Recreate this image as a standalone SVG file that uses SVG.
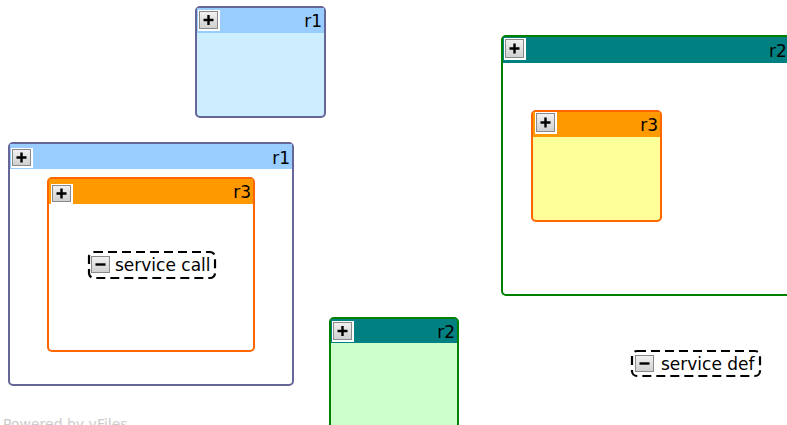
<svg xmlns="http://www.w3.org/2000/svg" width="787" height="425" viewBox="0 0 787 425">
<defs>
<linearGradient id="btn" x1="0" y1="0" x2="0" y2="1">
<stop offset="0" stop-color="#f2f2f2"/>
<stop offset="1" stop-color="#cfcfcf"/>
</linearGradient>
<style>
.lbl{font-family:"DejaVu Sans",sans-serif;font-size:17px;fill:#000;}
.btn{fill:url(#btn);stroke:#8a8a8a;stroke-width:1;}
.btno{fill:#fff;}
.sign{stroke:#000;stroke-width:2.4;fill:none;}
.c1{stroke:#666699;stroke-width:2;}
.c2{stroke:#008000;stroke-width:2;}
.c3{stroke:#ff6600;stroke-width:2;}
.dash{fill:#fff;stroke:#000;stroke-width:2.2;stroke-dasharray:9,5;}
</style>
</defs>
<g id="r1-top">
<rect x="196" y="7" width="129" height="110" rx="4" fill="#cceeff" class="c1"/>
<rect x="197" y="8" width="127" height="25" fill="#99ccff"/>
<rect x="198" y="10" width="22" height="21" class="btno"/>
<rect x="199.5" y="11.5" width="18" height="17" class="btn"/>
<path d="M203.5 20h10M208.5 15v10" class="sign"/>
<text x="322" y="27" text-anchor="end" class="lbl">r1</text>
</g>
<g id="r1-big">
<rect x="9" y="143" width="284" height="242" rx="4" fill="#fff" class="c1"/>
<rect x="10" y="144" width="282" height="25" fill="#99ccff"/>
<rect x="11" y="148" width="22" height="20" class="btno"/>
<rect x="12.5" y="149.5" width="18" height="16" class="btn"/>
<path d="M16.5 157.5h10M21.5 152.5v10" class="sign"/>
<text x="290" y="164" text-anchor="end" class="lbl">r1</text>
</g>
<g id="r3-inner">
<rect x="48" y="178" width="206" height="173" rx="4" fill="#fff" class="c3"/>
<rect x="49" y="179" width="204" height="25" fill="#ff9900"/>
<rect x="51" y="184" width="22" height="20" class="btno"/>
<rect x="52.5" y="185.5" width="18" height="16" class="btn"/>
<path d="M56.5 193.5h10M61.5 188.5v10" class="sign"/>
<text x="251" y="198" text-anchor="end" class="lbl">r3</text>
</g>
<g id="service-call">
<rect x="89" y="252" width="126" height="26" rx="5" class="dash"/>
<rect x="91.5" y="256.5" width="18" height="16" class="btn"/>
<path d="M95.5 264.5h10" class="sign"/>
<text x="115" y="271" class="lbl">service call</text>
</g>
<g id="r2-right">
<rect x="502" y="36" width="300" height="259" rx="4" fill="#fff" class="c2"/>
<rect x="503" y="37" width="298" height="26" fill="#008080"/>
<rect x="504" y="38" width="22" height="22" class="btno"/>
<rect x="505.5" y="39.5" width="18" height="18" class="btn"/>
<path d="M509.5 48.5h10M514.5 43.5v10" class="sign"/>
<text x="769" y="57" class="lbl">r2</text>
</g>
<g id="r3-right">
<rect x="532" y="111" width="129" height="110" rx="4" fill="#ffff99" class="c3"/>
<rect x="533" y="112" width="127" height="25" fill="#ff9900"/>
<rect x="535" y="112" width="22" height="22" class="btno"/>
<rect x="536.5" y="113.5" width="18" height="18" class="btn"/>
<path d="M540.5 122.5h10M545.5 117.5v10" class="sign"/>
<text x="658" y="131" text-anchor="end" class="lbl">r3</text>
</g>
<g id="r2-bottom">
<rect x="330" y="318" width="128" height="130" rx="4" fill="#ccffcc" class="c2"/>
<rect x="331" y="319" width="126" height="24" fill="#008080"/>
<rect x="332" y="321" width="22" height="21" class="btno"/>
<rect x="333.5" y="322.5" width="18" height="17" class="btn"/>
<path d="M337.5 331h10M342.5 326v10" class="sign"/>
<text x="455" y="338" text-anchor="end" class="lbl">r2</text>
</g>
<g id="service-def">
<rect x="632" y="351" width="128" height="25" rx="5" class="dash"/>
<rect x="635.5" y="355.5" width="18" height="16" class="btn"/>
<path d="M639.5 363.5h10" class="sign"/>
<text x="661" y="370" class="lbl">service def</text>
</g>
<g id="connectors"></g>
<text x="3" y="429" style="font-family:'DejaVu Sans',sans-serif;font-size:14px;fill:#cccccc;">Powered by yFiles</text>
</svg>
